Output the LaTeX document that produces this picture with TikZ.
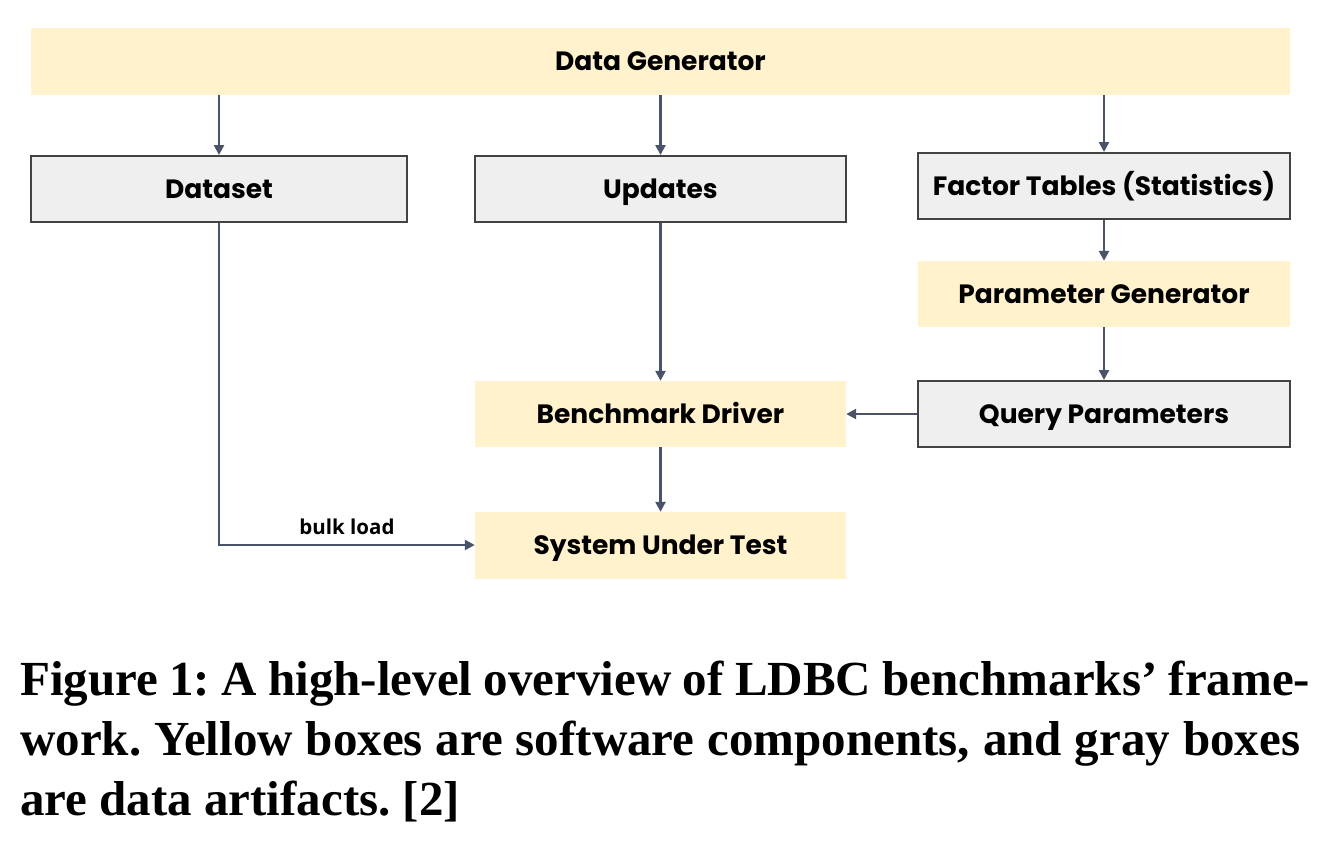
\documentclass[tikz,border=0pt]{standalone}
\usepackage{fontspec}
\setmainfont{Liberation Serif}
\newfontfamily\boxfont{Poppins}
\newfontfamily\lblfont{Open Sans}
\newfontfamily\capfont{Liberation Serif}
\usetikzlibrary{arrows.meta}
\definecolor{ylw}{HTML}{FFF2CC}
\definecolor{gry}{HTML}{EFEFEF}
\definecolor{bdr}{HTML}{434343}
\definecolor{arr}{HTML}{4A5468}
\tikzset{
  box/.style={minimum height=66pt, inner sep=0pt, text height=18.5pt, text depth=0pt, font=\boxfont\bfseries\fontsize{26.5}{30}\selectfont, text=black},
  soft/.style={box, fill=ylw},
  data/.style={box, fill=gry, draw=bdr, line width=2pt},
  conn/.style={draw=arr, line width=2.4pt, -{Triangle[length=10pt,width=10pt]}},
  captxt/.style={anchor=base west, inner sep=0pt, font=\capfont\bfseries\fontsize{49}{55}\selectfont},
}
\begin{document}
\frenchspacing
\begin{tikzpicture}[x=1pt,y=-1pt]
\useasboundingbox (0,0) rectangle (1326,844);
\fill[white] (0,0) rectangle (1326,844);
\node[soft, minimum width=1259pt, minimum height=67pt] (gen) at (660.5,61.5) {Data Generator};
\node[data, minimum width=376pt] (ds) at (219,189) {Dataset};
\node[data, minimum width=371pt] (up) at (660.5,189) {Updates};
\node[data, minimum width=372pt] (ft) at (1104,186) {Factor Tables (Statistics)};
\node[soft, minimum width=372pt] (pg) at (1104,294) {Parameter Generator};
\node[soft, minimum width=371pt] (bd) at (660.5,414) {Benchmark Driver};
\node[data, minimum width=372pt] (qp) at (1104,414) {Query Parameters};
\node[soft, minimum width=371pt, minimum height=67pt] (sut) at (660.5,545.5) {System Under Test};
\coordinate (bend) at (219,545);
\draw[conn] (gen.south -| ds) -- (ds.north);
\draw[conn] (gen.south -| up) -- (up.north);
\draw[conn] (gen.south -| ft) -- (ft.north);
\draw[conn] (ft) -- (pg);
\draw[conn] (pg) -- (qp);
\draw[conn] (up) -- (bd);
\draw[conn] (qp.west) -- (bd.east);
\draw[conn] (bd) -- (sut);
\draw[conn] (ds.south) -- (bend) -- (sut.west |- bend);
\node[font=\lblfont\bfseries\fontsize{20.5}{22}\selectfont, anchor=south] (bl) at (347,538) {bulk load};
\node[captxt] (c1) at (20,695) {\makebox[1290pt][s]{Figure 1: A high-level overview of LDBC benchmarks’ frame-}};
\node[captxt] (c2) at (20,755) {\makebox[1280pt][s]{work. Yellow boxes are software components, and gray boxes}};
\node[captxt] (c3) at (20,815) {are data artifacts. [2]};
\end{tikzpicture}
\end{document}
